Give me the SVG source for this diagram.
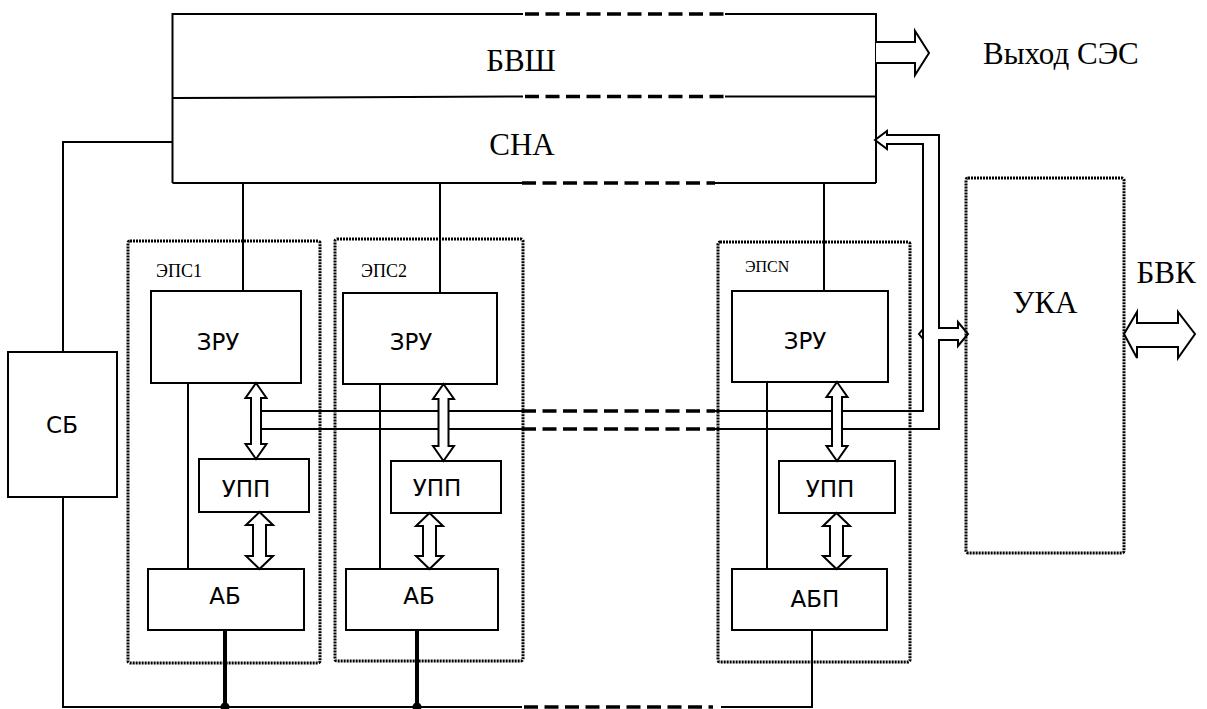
<svg xmlns="http://www.w3.org/2000/svg" width="1207" height="709" viewBox="0 0 1207 709">
<style>
.box{fill:#fff;stroke:#000;stroke-width:2}
.ln{fill:none;stroke:#000;stroke-width:2}
.thick{fill:none;stroke:#000;stroke-width:4}
.dash{fill:none;stroke:#000;stroke-width:3.5;stroke-dasharray:14 6.5}
.dot{fill:none;stroke:#000;stroke-width:3;stroke-dasharray:2 1}
.arr{fill:#fff;stroke:#000;stroke-width:2;stroke-linejoin:miter}
.serif{font-family:"Liberation Serif","Times New Roman",serif;fill:#000}
.sans{font-family:"DejaVu Sans","Liberation Sans",sans-serif;fill:#000;font-size:23px}
.big{font-size:31px}
</style>
<rect width="1207" height="709" fill="#fff"/>

<g id="bvsh-sna">
  <path class="ln" d="M172.5,13 V183 M876,13 V183"/>
  <path class="ln" d="M172.5,14 H523 M725,14 H876"/>
  <path class="dash" d="M525,14 H725"/>
  <path class="ln" d="M172.5,98 L523,96.5 M725,96.5 H876"/>
  <path class="dash" d="M525,96.5 H725"/>
  <path class="ln" d="M172.5,183 H522 M715,183 H876"/>
  <path class="dash" d="M522,183 H715"/>
  <text class="serif big" x="521" y="71" text-anchor="middle">БВШ</text>
  <text class="serif big" x="522" y="155" text-anchor="middle">СНА</text>
</g>

<g id="output-label">
  <text class="serif big" x="983" y="64">Выход СЭС</text>
</g>

<g id="sb">
  <rect class="box" x="8" y="352" width="109" height="145"/>
  <text class="sans" x="62" y="433" text-anchor="middle">СБ</text>
</g>

<g id="eps1">
  <rect class="dot" x="128" y="241" width="192" height="422" rx="2"/>
  <text class="serif" font-size="18" x="156" y="277">ЭПС1</text>
  <rect class="box" x="151" y="291" width="150" height="92"/>
  <text class="sans" x="218" y="350" text-anchor="middle">ЗРУ</text>
  <rect class="box" x="199" y="459" width="110" height="53"/>
  <text class="sans" x="246" y="497" text-anchor="middle">УПП</text>
  <rect class="box" x="148" y="569" width="156" height="61"/>
  <text class="sans" x="225" y="604" text-anchor="middle">АБ</text>
</g>

<g id="eps2">
  <rect class="dot" x="335" y="239" width="188" height="422" rx="2"/>
  <text class="serif" font-size="18" x="361" y="277">ЭПС2</text>
  <rect class="box" x="343" y="293" width="154" height="91"/>
  <text class="sans" x="411" y="350" text-anchor="middle">ЗРУ</text>
  <rect class="box" x="391" y="461" width="110" height="52"/>
  <text class="sans" x="437" y="496" text-anchor="middle">УПП</text>
  <rect class="box" x="346" y="569" width="152" height="61"/>
  <text class="sans" x="419" y="604" text-anchor="middle">АБ</text>
</g>

<g id="epsN">
  <rect class="dot" x="718" y="242" width="192" height="420" rx="2"/>
  <text class="serif" font-size="16" x="745" y="272">ЭПСN</text>
  <rect class="box" x="732" y="291" width="156" height="91"/>
  <text class="sans" x="805" y="349" text-anchor="middle">ЗРУ</text>
  <rect class="box" x="779" y="461" width="116" height="52"/>
  <text class="sans" x="830" y="497" text-anchor="middle">УПП</text>
  <rect class="box" x="732" y="569" width="155" height="61"/>
  <text class="sans" x="815" y="607" text-anchor="middle">АБП</text>
</g>

<g id="uka">
  <rect class="dot" x="966" y="178" width="158" height="375" rx="2"/>
  <text class="serif big" x="1045" y="313" text-anchor="middle">УКА</text>
</g>

<g id="bvk-label">
  <text class="serif big" x="1166" y="283" text-anchor="middle">БВК</text>
</g>

<g id="connectors">
  <path class="ln" d="M243,183 V291 M440,183 V293 M824,183 V291"/>
  <path class="ln" d="M188,383 V569 M380,384 V569 M767,382 V569"/>
  <path class="ln" d="M172,142 H63 V352 M63,497 V707 H522 M721,707 H812 V630"/>
  <path class="dash" d="M524,707 H713"/>
  <path class="thick" d="M225,630 V707 M417,630 V707"/>
  <circle cx="225" cy="707" r="4.5" fill="#000"/>
  <circle cx="417" cy="707" r="4.5" fill="#000"/>
  <path class="ln" d="M261,411 H522 M261,429 H522"/>
  <path class="dash" d="M522,411 H715 M522,429 H715"/>
  <path class="ln" d="M715,411 H923 V144 H887 V149 L875,140 L887,131 V135 H939 V328 H958 V322 L968,334 L958,346 V340 H939 V429 H715"/>
  <path class="ln" d="M923,329 L919,334 L923,339"/>
  <path class="arr" d="M876,42 H915 V31 L929,53 L915,75 V63 H876"/>
  <polygon class="arr" points="1124,334 1137,312 1137,323 1178,323 1178,312 1195,334 1178,358 1178,347 1137,347 1137,358"/>
  <polygon class="arr" points="256,383 266.5,398 261,398 261,444 266.5,444 256,459 245.5,444 251,444 251,398 245.5,398"/>
  <polygon class="arr" points="443.5,384 454,399 448.5,399 448.5,446 454,446 443.5,461 433,446 438.5,446 438.5,399 433,399"/>
  <polygon class="arr" points="837,382 847.5,397 842,397 842,446 847.5,446 837,461 826.5,446 832,446 832,397 826.5,397"/>
  <polygon class="arr" points="259.5,512 273,525 266,525 266,556 273,556 259.5,569 246,556 253,556 253,525 246,525"/>
  <polygon class="arr" points="429.5,513 443,526 436,526 436,556 443,556 429.5,569 416,556 423,556 423,526 416,526"/>
  <polygon class="arr" points="836.5,513 850,526 843,526 843,556 850,556 836.5,569 823,556 830,556 830,526 823,526"/>
</g>
</svg>
